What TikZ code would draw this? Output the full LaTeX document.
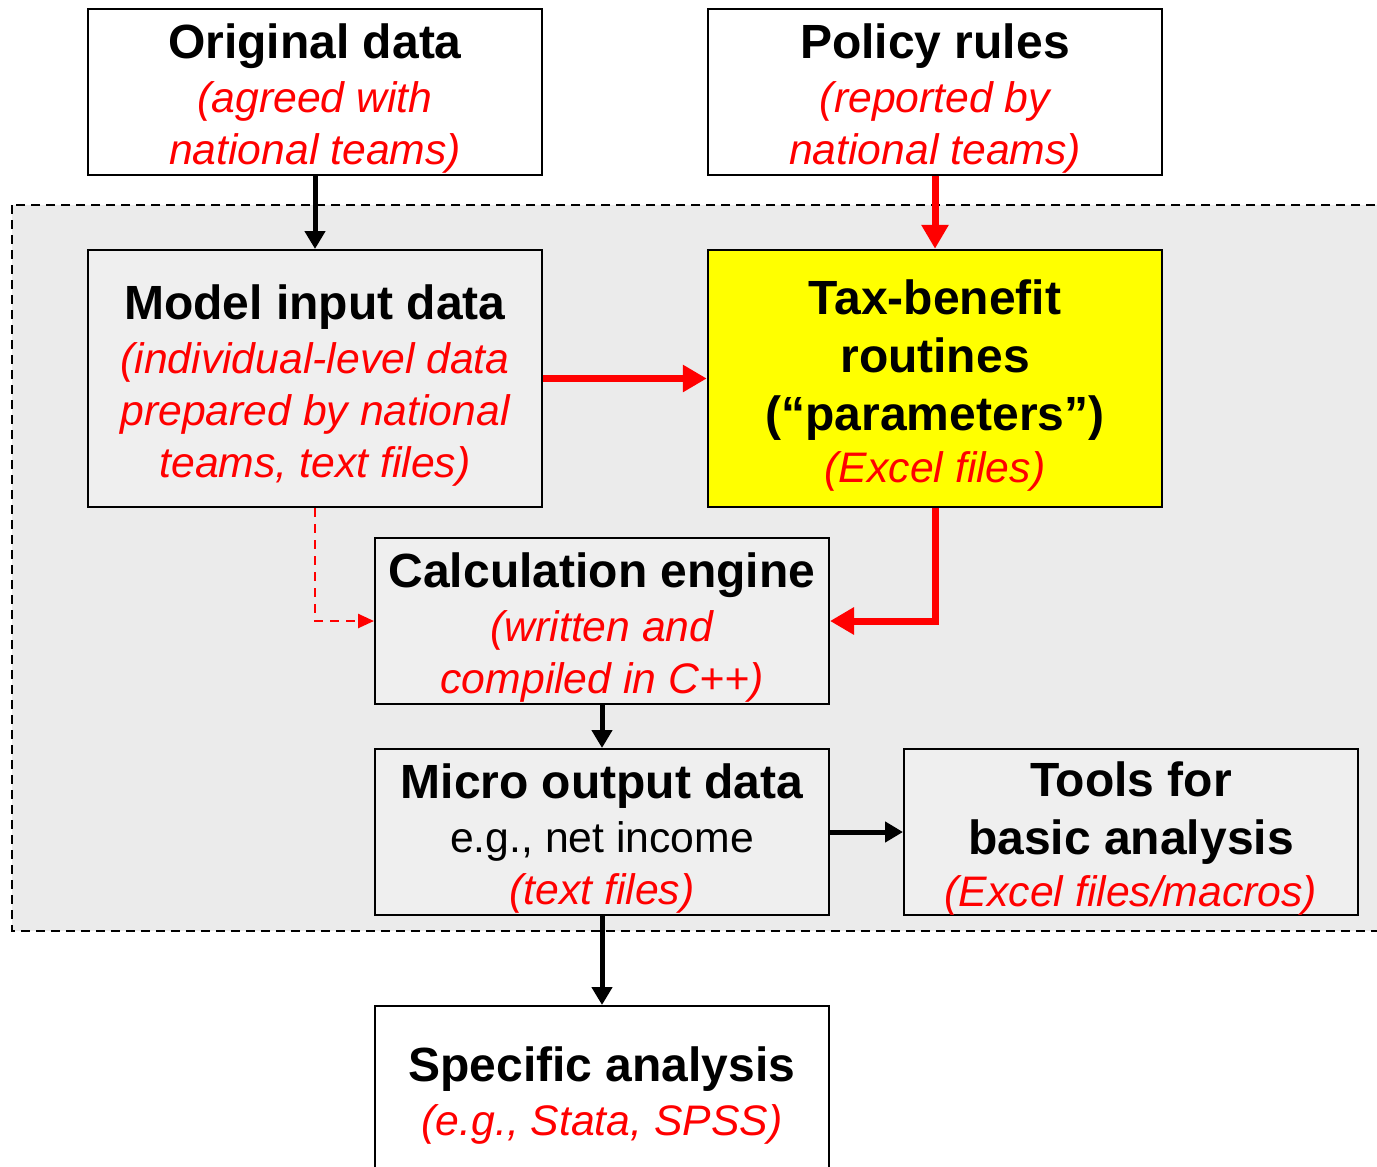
\documentclass[tikz,border=0pt]{standalone}
\usepackage{fontspec}
\setmainfont{Liberation Sans}
\usetikzlibrary{arrows.meta}
\definecolor{regiongray}{HTML}{EBEBEB}
\definecolor{boxgray}{HTML}{EFEFEF}
\definecolor{pred}{HTML}{FF0000}
\definecolor{pyellow}{HTML}{FFFF00}
\tikzset{
  box/.style={draw=black, line width=2pt, minimum width=454pt, minimum height=166pt,
    inner sep=0pt, align=center, font=\fontsize{42.7}{52}\selectfont},
  whitebox/.style={box, fill=white},
  graybox/.style={box, fill=boxgray},
  blackarrow/.style={line width=5pt, -{Triangle[length=18pt,width=20pt]}},
  redarrow/.style={draw=pred, line width=7pt, -{Triangle[length=24pt,width=26pt]}},
  reddash/.style={draw=pred, line width=2.5pt, dash pattern=on 9pt off 7pt,
    -{Triangle[length=16pt,width=14pt]}},
}
\newcommand{\ttl}[1]{{\bfseries\fontsize{48}{52}\selectfont\rule{0pt}{48pt}#1}}
\newcommand{\ttlb}[1]{{\bfseries\fontsize{48}{52}\selectfont #1}}
\newcommand{\rit}[1]{{\color{pred}\itshape #1}}
\begin{document}
\begin{tikzpicture}[x=1pt,y=-1pt]
\useasboundingbox (0,0) rectangle (1377,1167);
\clip (0,0) rectangle (1377,1167);
% region
\draw[fill=regiongray, line width=2pt, dash pattern=on 9pt off 6pt]
  (12,205) rectangle (1400,931);
% nodes
\node[whitebox] (orig) at (315,91.5) {\ttl{Original data}\\[2pt]\rit{(agreed with}\\\rit{national teams)}};
\node[whitebox] (policy) at (935,91.5) {\ttl{Policy rules}\\[2pt]\rit{(reported by}\\\rit{national teams)}};
\node[graybox, minimum height=257pt] (model) at (315,378.5)
  {\ttl{Model input data}\\[2pt]\rit{(individual-level data}\\\rit{prepared by national}\\\rit{teams, text files)}};
\node[box, fill=pyellow, line width=2.5pt, minimum height=257pt] (tax) at (935,378.5)
  {\ttl{Tax-benefit}\\[6pt]\ttlb{routines}\\[6pt]\ttlb{(“parameters”)}\\\rit{(Excel files)}};
\node[graybox] (calc) at (602,621) {\ttl{Calculation engine}\\[2pt]\rit{(written and}\\\rit{compiled in C++)}};
\node[graybox] (micro) at (602,832) {\ttl{Micro output data}\\[2pt]e.g., net income\\\rit{(text files)}};
\node[graybox] (tools) at (1131,832) {\ttl{Tools for}\\[6pt]\ttlb{basic analysis}\\\rit{(Excel files/macros)}};
\node[whitebox] (spec) at (602,1089) {\ttl{Specific analysis}\\[2pt]\rit{(e.g., Stata, SPSS)}};
% connectors
\draw[blackarrow] (orig.south) -- (model.north);
\draw[redarrow] (policy.south) -- (tax.north);
\draw[redarrow] (model.east) -- (tax.west);
\draw[reddash] (model.south) |- (calc.west);
\draw[redarrow] (tax.south) |- (calc.east);
\draw[blackarrow] (calc.south) -- (micro.north);
\draw[blackarrow] (micro.east) -- (tools.west);
\draw[blackarrow] (micro.south) -- (spec.north);
\end{tikzpicture}
\end{document}
